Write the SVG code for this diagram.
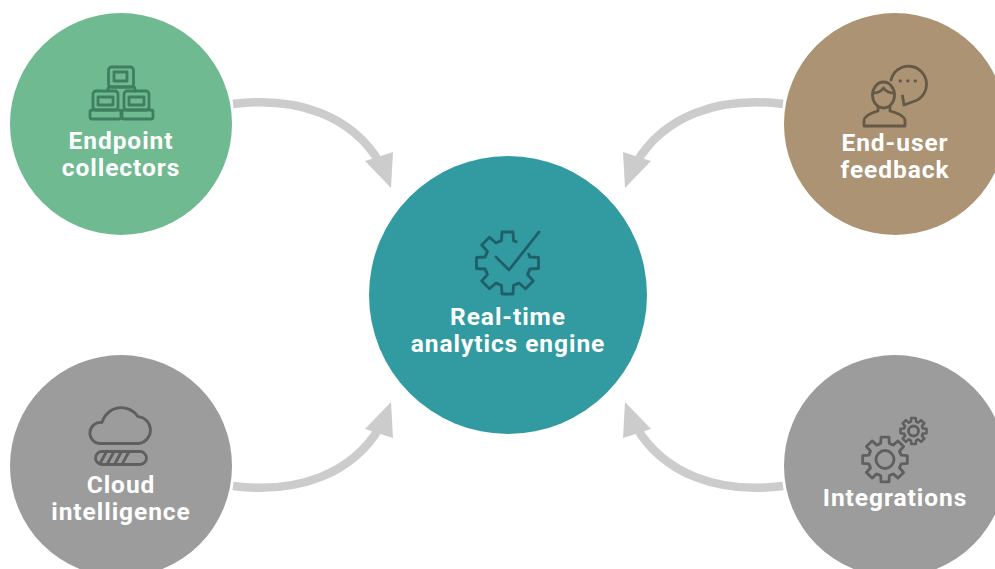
<svg xmlns="http://www.w3.org/2000/svg" xmlns:xlink="http://www.w3.org/1999/xlink" width="995" height="569" viewBox="0 0 995 569">
<style>
text{font-family:"Roboto","Liberation Sans",sans-serif;font-weight:700;font-size:24.500px;fill:#fff;text-anchor:middle;letter-spacing:.95px}
.conn{fill:none;stroke:#ccc;stroke-width:8.500}
.head{fill:#ccc}
.ic{fill:none;stroke-linecap:round;stroke-linejoin:round;stroke-width:2.800}
</style>
<defs>
<path id="tooth" d="M21.25-8.8A23 23 0 0 1 22.3-6L31-5.500V5.500L22.3 6A23 23 0 0 1 21.25 8.8"/>
<g id="gear">
<use xlink:href="#tooth" href="#tooth"/>
<use xlink:href="#tooth" href="#tooth" transform="rotate(45)"/>
<use xlink:href="#tooth" href="#tooth" transform="rotate(90)"/>
<use xlink:href="#tooth" href="#tooth" transform="rotate(135)"/>
<use xlink:href="#tooth" href="#tooth" transform="rotate(180)"/>
<use xlink:href="#tooth" href="#tooth" transform="rotate(225)"/>
<use xlink:href="#tooth" href="#tooth" transform="rotate(270)"/>
<use xlink:href="#tooth" href="#tooth" transform="rotate(315)"/>
</g>
<g id="arrow">
<path class="conn" d="M233 104C298 96 352 116 380 163"/>
<path class="head" d="M391 188L365 161L393 152Z"/>
</g>
</defs>
<g id="connectors">
<use xlink:href="#arrow" href="#arrow"/>
<use xlink:href="#arrow" href="#arrow" transform="translate(1016 0) scale(-1 1)"/>
<use xlink:href="#arrow" href="#arrow" transform="translate(0 590) scale(1 -1)"/>
<use xlink:href="#arrow" href="#arrow" transform="translate(1016 590) scale(-1 -1)"/>
</g>
<g id="engine">
<circle cx="508" cy="295" r="139" fill="#329ba1"/>
<g class="ic" stroke="#1f5f68">
<g transform="translate(507.5 263)">
<use xlink:href="#tooth" href="#tooth"/>
<use xlink:href="#tooth" href="#tooth" transform="rotate(45)"/>
<use xlink:href="#tooth" href="#tooth" transform="rotate(90)"/>
<use xlink:href="#tooth" href="#tooth" transform="rotate(135)"/>
<use xlink:href="#tooth" href="#tooth" transform="rotate(180)"/>
<use xlink:href="#tooth" href="#tooth" transform="rotate(225)"/>
<use xlink:href="#tooth" href="#tooth" transform="rotate(270)"/>
</g>
<path d="M496 257L509 270L539 232"/>
</g>
<text x="508" y="325">Real-time</text>
<text x="508" y="352">analytics engine</text>
</g>
<g id="endpoint">
<circle cx="121" cy="124" r="111" fill="#70ba91"/>
<g class="ic" stroke="#3e7f60">
<rect x="108.500" y="67" width="25" height="20" rx="3"/>
<rect x="114" y="72" width="13" height="9"/>
<path d="M108 91V89Q108 87 110 87H133Q135 87 135 89V91"/>
<rect x="93" y="91" width="25" height="19" rx="3"/>
<rect x="98" y="97" width="15" height="8"/>
<rect x="90" y="110" width="31" height="9" rx="2"/>
<rect x="124" y="91" width="25" height="19" rx="3"/>
<rect x="129" y="97" width="15" height="8"/>
<rect x="122" y="110" width="31" height="9" rx="2"/>
</g>
<text x="121" y="149">Endpoint</text>
<text x="121" y="176">collectors</text>
</g>
<g id="feedback">
<circle cx="895" cy="124" r="111" fill="#ab9374"/>
<g class="ic" stroke="#645846">
<path d="M891 80A18 18 0 1 1 913.500 101.500L904 105L902.500 96"/>
<path d="M900 81h.6M907.500 81h.6M915 81h.6"/>
<ellipse cx="883.500" cy="95" rx="11" ry="13"/>
<path d="M873 93Q880 93 883.500 88Q887 93 894 93"/>
<path d="M878 107V111Q864 115 864 121V126H905V121Q905 115 890 111V107"/>
</g>
<text x="895" y="151">End-user</text>
<text x="895" y="178">feedback</text>
</g>
<g id="cloud">
<circle cx="121" cy="466" r="111" fill="#9c9c9c"/>
<g class="ic" stroke="#5f5f5f">
<path d="M99 443.500H139A13.500 13.500 0 0 0 138 416.700A20 20 0 0 0 102 422.500A10.500 10.500 0 0 0 99 443.500Z"/>
<rect x="95.500" y="451.500" width="51" height="13" rx="6.500"/>
<path d="M100 463.500L106 452.500M107.500 463.500L113.500 452.500M115 463.500L121 452.500M122.500 463.500L128.500 452.500"/>
</g>
<text x="121" y="493">Cloud</text>
<text x="121" y="520">intelligence</text>
</g>
<g id="integrations">
<circle cx="895" cy="466" r="111" fill="#9c9c9c"/>
<g class="ic" stroke="#5f5f5f">
<use xlink:href="#gear" href="#gear" transform="translate(885 459.500) scale(.72)" style="stroke-width:3.900"/>
<circle cx="885" cy="459.500" r="9"/>
<use xlink:href="#gear" href="#gear" transform="translate(913.500 431) scale(.42)" style="stroke-width:6"/>
<circle cx="913.500" cy="431" r="5"/>
</g>
<text x="895" y="506">Integrations</text>
</g>
</svg>
